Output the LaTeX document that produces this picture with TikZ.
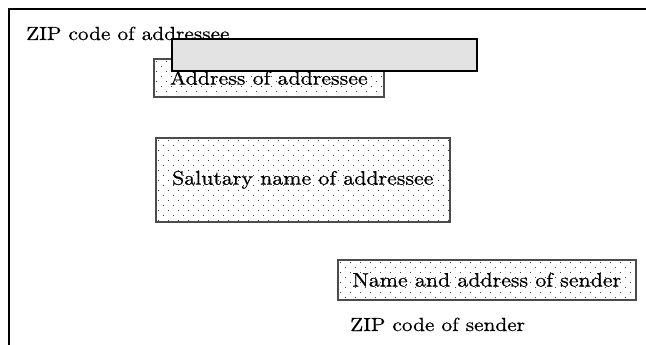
\documentclass[tikz,border=0pt]{standalone}
\usepackage{fontspec}
\setmainfont{lmroman10-regular.otf}[FakeStretch=1.12, FakeBold=0.5]
\usetikzlibrary{calc}
\definecolor{boxgray}{HTML}{E3E3E3}
\tikzset{
  label text/.style={inner sep=0pt, anchor=base west, font=\fontsize{19}{21}\selectfont},
  dotbox/.style={draw=black!70, line width=1.6pt, fill=white, inner sep=0pt,
    anchor=north west, font=\fontsize{19.5}{21}\selectfont,
    path picture={
      \foreach \j in {0,...,20}{
        \pgfmathsetmacro\off{mod(\j,2)*5}
        \foreach \i in {0,...,32}{
          \fill[black!75] ($(path picture bounding box.north west)+(\i*10+\off+2,\j*5+2)$) rectangle +(1.1,1.1);
        }
      }
    }},
  greybox/.style={draw=black, line width=2pt, fill=boxgray, anchor=north west, inner sep=0pt},
  frame/.style={draw=black, line width=1.5pt}
}
\begin{document}
\begin{tikzpicture}[x=1pt, y=-1pt]
  \useasboundingbox (0,0) rectangle (646,345);
  \fill[white] (0,0) rectangle (646,345);
  % envelope edge
  \coordinate (fr) at (646,9);
  \coordinate (fc) at (9,9);
  \coordinate (fb) at (9,345);
  \draw[frame] (fr) -- (fc) -- (fb);
  % addressee
  \node[label text] (zipto) at (26,40) {ZIP code of addressee};
  \node[dotbox, minimum width=230pt, minimum height=38pt] (addr) at (153,58) {\raisebox{-3pt}{Address of addressee}};
  \node[greybox, minimum width=305pt, minimum height=32pt] (stamp) at (171,38) {};
  \node[dotbox, minimum width=294pt, minimum height=84pt] (salut) at (155,137) {Salutary name of addressee};
  % sender
  \node[dotbox, minimum width=298pt, minimum height=40pt] (sender) at (337,259) {Name and address of sender};
  \node[label text] (zipfrom) at (350,331) {ZIP code of sender};
\end{tikzpicture}
\end{document}
